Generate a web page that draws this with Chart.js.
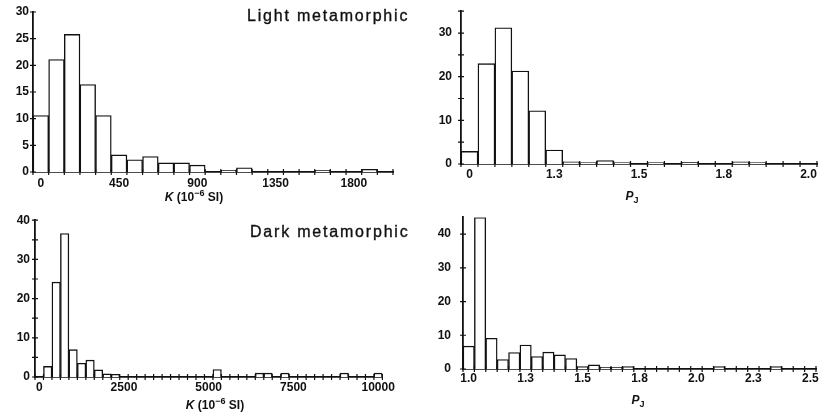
<!DOCTYPE html>
<html><head><meta charset="utf-8">
<script src="https://cdn.jsdelivr.net/npm/chart.js@4.4.0/dist/chart.umd.min.js"></script>
<style>
html,body{margin:0;padding:0;background:#fff;}
body{width:827px;height:418px;position:relative;overflow:hidden;font-family:"Liberation Sans",Arial,sans-serif;color:#111;}
canvas{position:absolute;}
.t{position:absolute;white-space:nowrap;line-height:16px;}
.title{font-size:16px;letter-spacing:1.8px;-webkit-text-stroke:0.35px #111;}
.xt{font-size:12px;font-weight:bold;transform:translateX(-50%);}
.xt sup{font-size:9px;vertical-align:5px;line-height:0;}
.xt sub{font-size:9px;vertical-align:-3px;line-height:0;}
</style></head><body>
<canvas id="c1" width="403" height="192" style="left:0;top:0"></canvas>
<canvas id="c2" width="405" height="189" style="left:420px;top:-5px"></canvas>
<canvas id="c3" width="398" height="189" style="left:0;top:208px"></canvas>
<canvas id="c4" width="404" height="191" style="left:420px;top:198px"></canvas>
<div class="t title" style="left:247px;top:8px">Light metamorphic</div>
<div class="t title" style="left:250px;top:224px">Dark metamorphic</div>
<div class="t xt" style="left:194px;top:189px"><i>K</i> (10<sup>−6</sup> SI)</div>
<div class="t xt" style="left:632px;top:188px"><i>P</i><sub>J</sub></div>
<div class="t xt" style="left:215px;top:397px"><i>K</i> (10<sup>−6</sup> SI)</div>
<div class="t xt" style="left:638px;top:392px"><i>P</i><sub>J</sub></div>
<script>
// ---- Light metamorphic, K ----
const tlBins = [0,90,180,270,360,450,540,630,720,810,900,990,1080,1170,1260,1350,1440,1530,1620,1710,1800,1890,1980];
const tlCounts = [10.6,21.1,25.8,16.4,10.6,3.2,2.3,2.9,1.7,1.7,1.3,0,0.3,0.8,0,0,0,0,0.3,0,0,0.5,0];
const tlXTickBins = [0,450,900,1350,1800];
const tlXTickText = ['0','450','900','1350','1800'];
const tlYTicks = [0,5,10,15,20,25,30];
// ---- Light metamorphic, PJ ----
const trBins = ['1.00','1.05','1.10','1.15','1.20','1.25','1.30','1.35','1.40','1.45','1.50','1.55','1.60','1.65','1.70','1.75','1.80','1.85','1.90','1.95','2.00'];
const trCounts = [2.9,23.0,31.2,21.3,12.2,3.2,0.5,0.3,0.8,0.3,0,0.3,0,0.4,0,0,0.5,0.3,0,0,0];
const trXTickBins = ['1.00','1.25','1.50','1.75','2.00'];
const trXTickText = ['0','1.3','1.5','1.8','2.0'];
const trYTicks = [0,10,20,30];
// ---- Dark metamorphic, K ----
const blBins = [0,250,500,750,1000,1250,1500,1750,2000,2250,2500,2750,3000,3250,3500,3750,4000,4250,4500,4750,5000,5250,5500,5750,6000,6250,6500,6750,7000,7250,7500,7750,8000,8250,8500,8750,9000,9250,9500,9750,10000];
const blCounts = [0,2.7,24.2,36.6,7.0,3.5,4.3,1.8,0.8,0.7,0,0,0,0,0,0,0,0,0,0,0,1.9,0,0,0,0,1.0,1.0,0,1.0,0,0,0,0,0,0,1.0,0,0,0,1.0];
const blXTickBins = [0,2500,5000,7500,10000];
const blXTickText = ['0','2500','5000','7500','10000'];
const blYTicks = [0,10,20,30,40];
// ---- Dark metamorphic, PJ ----
const brBins = ['1.00','1.05','1.10','1.15','1.20','1.25','1.30','1.35','1.40','1.45','1.50','1.55','1.60','1.65','1.70','1.75','1.80','1.85','1.90','1.95','2.00','2.05','2.10','2.15','2.20','2.25','2.30','2.35','2.40','2.45','2.50'];
const brCounts = [6.8,44.9,9.1,2.8,4.9,7.1,3.7,5.0,4.2,3.1,0.7,1.2,0.5,0.5,0.7,0,0,0,0,0,0,0,0.7,0,0,0,0,0.7,0,0,0];
const brXTickBins = ['1.00','1.25','1.50','1.75','2.00','2.25','2.50'];
const brXTickText = ['1.0','1.3','1.5','1.8','2.0','2.3','2.5'];
const brYTicks = [0,10,20,30,40];

const INK = '#111';
const crossTicks = {
  id: 'crossTicks',
  afterDraw(chart) {
    const ctx = chart.ctx, x = chart.scales.x, y = chart.scales.y;
    ctx.save();
    ctx.strokeStyle = INK; ctx.lineWidth = 1.2;
    ctx.beginPath();
    const n = chart.data.labels.length;
    for (let i = 0; i <= n; i++) {
      const px = x.getPixelForValue(i - 0.5);
      ctx.moveTo(px, y.bottom - 3); ctx.lineTo(px, y.bottom + 3);
    }
    y.ticks.forEach(t => {
      const py = y.getPixelForValue(t.value);
      ctx.moveTo(x.left - 3, py); ctx.lineTo(x.left + 3, py);
    });
    ctx.stroke();
    ctx.restore();
  }
};

function makeHist(id, bins, counts, xTickBins, xTickText, yTicks, yMax, opt) {
  const font = {family: '"Liberation Sans", Arial, sans-serif', weight: 'bold', size: 12};
  new Chart(document.getElementById(id), {
    type: 'bar',
    data: {
      labels: bins,
      datasets: [{
        data: counts,
        backgroundColor: '#fff',
        borderColor: INK,
        borderWidth: 1.4,
        barPercentage: 1,
        categoryPercentage: 1
      }]
    },
    options: {
      responsive: false,
      animation: false,
      devicePixelRatio: 1,
      layout: {padding: {left: 0, top: opt.top, right: opt.right, bottom: 0}},
      plugins: {legend: {display: false}, tooltip: {enabled: false}, title: {display: false}},
      scales: {
        x: {
          type: 'category',
          offset: true,
          grid: {display: false, drawTicks: false},
          border: {display: true, color: INK, width: 1.8},
          ticks: {
            autoSkip: false, maxRotation: 0, minRotation: 0, padding: opt.xPad,
            color: INK, font: font,
            callback: function(v, i) {
              const b = bins[i];
              const k = xTickBins.indexOf(b);
              return k >= 0 ? xTickText[k] : '';
            }
          },
          afterFit: s => { s.height = opt.xH; }
        },
        y: {
          min: 0, max: yMax,
          grid: {display: false, drawTicks: false},
          border: {display: true, color: INK, width: 1.8},
          ticks: {
            stepSize: 5, padding: opt.yPad, color: INK, font: font,
            callback: v => yTicks.indexOf(v) >= 0 ? String(v) : ''
          },
          afterFit: s => { s.width = opt.yW; }
        }
      }
    },
    plugins: [crossTicks]
  });
}

makeHist('c1', tlBins, tlCounts, tlXTickBins, tlXTickText, tlYTicks, 30, {top: 12, right: 10, xH: 20, yW: 33, xPad: 4, yPad: 4});
makeHist('c2', trBins, trCounts, trXTickBins, trXTickText, trYTicks, 35, {top: 10, right: 8, xH: 20, yW: 41, xPad: 3, yPad: 9});
makeHist('c3', blBins, blCounts, blXTickBins, blXTickText, blYTicks, 40, {top: 10, right: 13, xH: 20, yW: 35, xPad: 3, yPad: 5});
makeHist('c4', brBins, brCounts, brXTickBins, brXTickText, brYTicks, 45, {top: 10, right: 8, xH: 20, yW: 43, xPad: 2, yPad: 12});
</script>
</body></html>
